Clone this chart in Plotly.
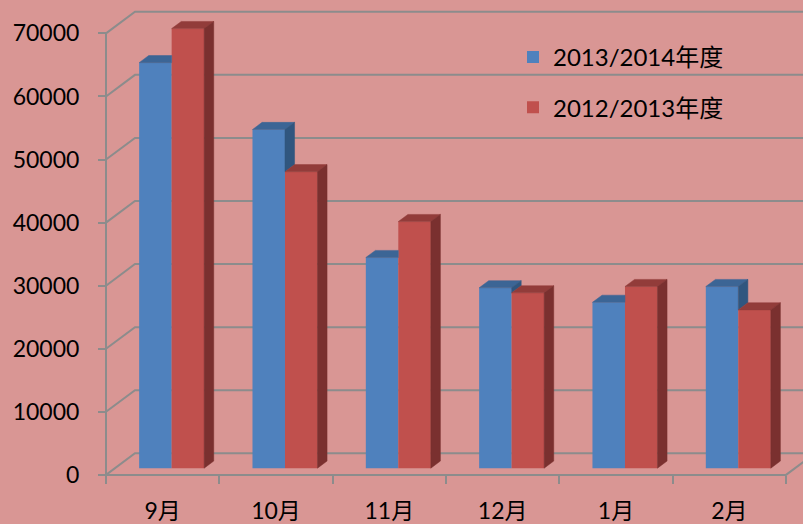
import plotly.graph_objects as go

# ---------------- data ----------------
categories = ["9月", "10月", "11月", "12月", "1月", "2月"]
series_names = ["2013/2014年度", "2012/2013年度"]
values_2013_2014 = [64300, 53700, 33400, 28600, 26300, 28800]
values_2012_2013 = [69700, 47000, 39100, 27800, 28800, 25100]
y_ticks = [0, 10000, 20000, 30000, 40000, 50000, 60000, 70000]
y_tick_labels = ["0", "10000", "20000", "30000", "40000", "50000", "60000", "70000"]

# ---------------- layout geometry (pixels -> data units) ----------------
W, H = 803, 524
AXIS_X_PX = 106.0          # front vertical axis
AXIS_Y_PX = 476.7          # front floor edge (value 0)
CAT_PX = 113.33            # width of one category
PX_PER_VAL = 63.31 / 10000.0

x_lo = -0.5 - AXIS_X_PX / CAT_PX
x_hi = -0.5 + (W - AXIS_X_PX) / CAT_PX
y_hi = AXIS_Y_PX / PX_PER_VAL
y_lo = -(H - AXIS_Y_PX) / PX_PER_VAL

WALL_DX = 29.0 / CAT_PX
WALL_DY = 21.7 / PX_PER_VAL
BAR_F0 = 0.31              # depth position of bar front faces
BAR_FD = 0.33              # bar depth
BAR_DX0, BAR_DY0 = BAR_F0 * WALL_DX, BAR_F0 * WALL_DY
DX, DY = BAR_FD * WALL_DX, BAR_FD * WALL_DY
BW = 32.5 / CAT_PX

BLUE, BLUE_TOP, BLUE_SIDE = "#4F81BD", "#3C6595", "#30567F"
RED, RED_TOP, RED_SIDE = "#C0504D", "#923C3A", "#7A302F"
BG = "#D99694"
GRID = "#8C8C8C"
FONT = "Lato, 'Noto Sans CJK SC', sans-serif"

n = len(categories)
base = BAR_DY0

fig = go.Figure()

# front faces (bars)
fig.add_trace(go.Bar(
    x=[i + BAR_DX0 for i in range(n)], y=values_2013_2014, base=base,
    width=BW, offset=-BW, name=series_names[0], legendgroup="a",
    marker=dict(color=BLUE, line=dict(width=0)), hoverinfo="skip"))
fig.add_trace(go.Bar(
    x=[i + BAR_DX0 for i in range(n)], y=values_2012_2013, base=base,
    width=BW, offset=0, name=series_names[1], legendgroup="b",
    marker=dict(color=RED, line=dict(width=0)), hoverinfo="skip"))

# top / side faces
bt_x, bt_y, bs_x, bs_y, rt_x, rt_y, rs_x, rs_y = ([] for _ in range(8))
for i in range(n):
    xc = i + BAR_DX0
    # blue bar (partly hidden behind the red bar next to it)
    xl, xr = xc - BW, xc
    bt = base + values_2013_2014[i]
    rt = base + values_2012_2013[i]
    if rt <= bt:
        px = [xl, xl + DX, xr + DX, xr, xl]
        py = [bt, bt + DY, bt + DY, bt, bt]
    elif rt >= bt + DY:
        px = [xl, xl + DX, xr, xr, xl]
        py = [bt, bt + DY, bt + DY, bt, bt]
    else:
        px = [xl, xl + DX, xr + DX, xr + (rt - bt) / DY * DX, xr, xr, xl]
        py = [bt, bt + DY, bt + DY, rt, rt, bt, bt]
    bt_x += px + [None]
    bt_y += py + [None]
    if bt > rt:
        lo = max(rt, base)
        bs_x += [xr, xr, xr + DX, xr + DX, xr, None]
        bs_y += [lo, bt, bt + DY, lo + DY, lo, None]
    # red bar
    xl, xr = xc, xc + BW
    rt_x += [xl, xl + DX, xr + DX, xr, xl, None]
    rt_y += [rt, rt + DY, rt + DY, rt, rt, None]
    rs_x += [xr, xr, xr + DX, xr + DX, xr, None]
    rs_y += [base, rt, rt + DY, base + DY, base, None]

for xs, ys, col in [(bt_x, bt_y, BLUE_TOP), (bs_x, bs_y, BLUE_SIDE),
                    (rt_x, rt_y, RED_TOP), (rs_x, rs_y, RED_SIDE)]:
    fig.add_trace(go.Scatter(x=xs, y=ys, mode="lines", fill="toself",
                             fillcolor=col, line=dict(color=col, width=0.5),
                             showlegend=False, hoverinfo="skip"))

# walls / gridlines (behind the bars)
shapes = []
for v in y_ticks:
    shapes.append(dict(
        type="path", xref="x", yref="y", layer="below",
        path=f"M {-0.5},{v} L {-0.5 + WALL_DX},{v + WALL_DY} L {x_hi + 1},{v + WALL_DY}",
        line=dict(color=GRID, width=2)))
shapes.append(dict(type="path", xref="x", yref="y", layer="below",
                   path=f"M -0.5,{y_ticks[0]} L -0.5,{y_ticks[-1]}",
                   line=dict(color=GRID, width=2)))
shapes.append(dict(type="path", xref="x", yref="y", layer="below",
                   path=f"M -0.5,0 L {n - 0.5},0 L {n - 0.5 + WALL_DX},{WALL_DY}",
                   line=dict(color=GRID, width=2)))

fig.update_layout(
    width=W, height=H,
    margin=dict(l=0, r=0, t=0, b=0),
    paper_bgcolor=BG, plot_bgcolor=BG,
    font=dict(family=FONT, size=23, color="#000000"),
    barmode="overlay",
    shapes=shapes,
    showlegend=True,
    legend=dict(x=513 / W, y=1 - 35 / H, xanchor="left", yanchor="top",
                font=dict(size=24), bgcolor="rgba(0,0,0,0)",
                traceorder="grouped", tracegroupgap=16),
    xaxis=dict(range=[x_lo, x_hi], anchor="free", position=(H - AXIS_Y_PX) / H,
               tickmode="array", tickvals=list(range(n)), ticktext=categories,
               ticks="", showgrid=False, zeroline=False, showline=False,
               ticklabelstandoff=20,
               minor=dict(tickmode="array", tickvals=[i - 0.5 for i in range(n + 1)],
                          ticks="outside", ticklen=8, tickwidth=2, tickcolor=GRID,
                          showgrid=False)),
    yaxis=dict(range=[y_lo, y_hi], anchor="free", position=AXIS_X_PX / W,
               tickmode="array", tickvals=y_ticks, ticktext=y_tick_labels,
               ticks="outside", ticklen=8,
               tickwidth=2, tickcolor=GRID, showgrid=False, zeroline=False,
               showline=False, ticklabelstandoff=14),
)

fig.write_html(
    "out.html",
    config={"displayModeBar": False},
    post_script="document.body.style.margin='0px';document.body.style.padding='0px';",
)
